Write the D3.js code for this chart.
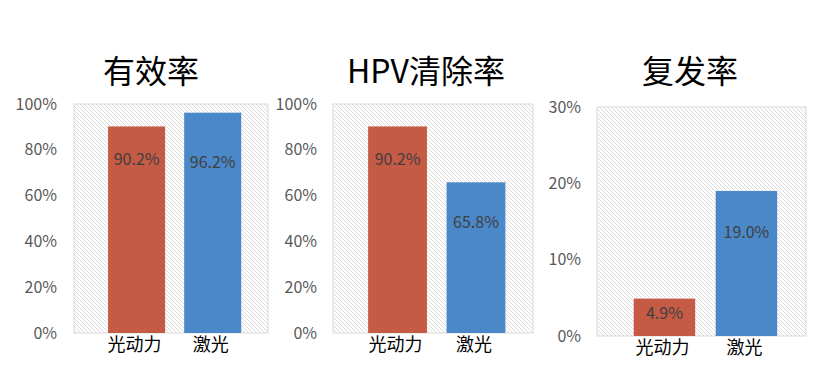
<!DOCTYPE html>
<html><head><meta charset="utf-8">
<script src="https://cdn.jsdelivr.net/npm/d3@7"></script>
<style>body{margin:0;background:#fff}</style>
</head><body>
<script>
const categories = ["光动力", "激光"];
const titles = ["有效率", "HPV清除率", "复发率"];
const effectiveRate = [90.2, 96.2];
const hpvClearance = [90.2, 65.8];
const recurrence = [4.9, 19.0];
const yMax = [100, 100, 30];
const tickStep = [20, 20, 10];

const series = [effectiveRate, hpvClearance, recurrence];
// layout only
const panels = [
  {left: 74, right: 268, top: 104, bottom: 333, labelX: 57, titleX: 151},
  {left: 333, right: 533, top: 104, bottom: 333, labelX: 317, titleX: 426},
  {left: 597, right: 806, top: 107, bottom: 336, labelX: 581, titleX: 690}
];
const labelDy = [[32, 48], [32, 39], [13, 40]];
const colors = ["#C55A45", "#4A88C9"];
const font = "'Noto Sans CJK SC', 'Noto Sans', sans-serif";

const svg = d3.select("body").append("svg").attr("width", 820).attr("height", 370);
const defs = svg.append("defs");
const pat = defs.append("pattern").attr("id", "hatch").attr("patternUnits", "userSpaceOnUse")
  .attr("width", 4).attr("height", 4);
pat.append("rect").attr("width", 4).attr("height", 4).attr("fill", "#fff");
pat.append("path").attr("d", "M-1,-1 L5,5 M-1,3 L1,5 M3,-1 L5,1").attr("stroke", "#dadada").attr("stroke-width", 1);

series.forEach((vals, i) => {
  const p = panels[i];
  const g = svg.append("g");
  const x = d3.scaleBand().domain(categories).range([p.left, p.right])
    .paddingInner(0.25).paddingOuter(0.4).align(0.56);
  const y = d3.scaleLinear().domain([0, yMax[i]]).range([p.bottom, p.top]);

  g.append("rect").attr("x", p.left).attr("y", p.top).attr("width", p.right - p.left)
    .attr("height", p.bottom - p.top).attr("fill", "url(#hatch)").attr("stroke", "#d9d9d9");

  // title
  g.append("text").attr("x", p.titleX).attr("y", 69).attr("text-anchor", "middle")
    .attr("dominant-baseline", "central").attr("font-family", font).attr("font-size", 32)
    .attr("fill", "#000").text(titles[i]);

  // y axis
  const ticks = d3.range(0, yMax[i] + 0.001, tickStep[i]);
  const yAxis = d3.axisLeft(y).tickValues(ticks).tickFormat(d => d + "%").tickSize(0).tickPadding(0);
  const ya = g.append("g").attr("transform", `translate(${p.labelX},0)`).call(yAxis);
  ya.select(".domain").remove();
  ya.selectAll("text").attr("font-family", font).attr("font-size", 16).attr("fill", "#595959");

  // x axis
  const xAxis = d3.axisBottom(x).tickSize(0).tickPadding(0);
  const xa = g.append("g").attr("transform", `translate(-2,${p.bottom + 5})`).call(xAxis);
  xa.select(".domain").remove();
  xa.selectAll("text").attr("font-family", font).attr("font-size", 18).attr("fill", "#000");

  // bars
  g.selectAll(".bar").data(vals).enter().append("rect")
    .attr("x", (d, j) => x(categories[j])).attr("width", x.bandwidth())
    .attr("y", d => y(d)).attr("height", d => p.bottom - y(d))
    .attr("fill", (d, j) => colors[j]);

  g.selectAll(".lbl").data(vals).enter().append("text")
    .attr("x", (d, j) => x(categories[j]) + x.bandwidth() / 2)
    .attr("y", (d, j) => y(d) + labelDy[i][j])
    .attr("text-anchor", "middle").attr("dominant-baseline", "central")
    .attr("font-family", font).attr("font-size", 16).attr("fill", "#404040")
    .text(d => d.toFixed(1) + "%");
});
</script>
</body></html>
